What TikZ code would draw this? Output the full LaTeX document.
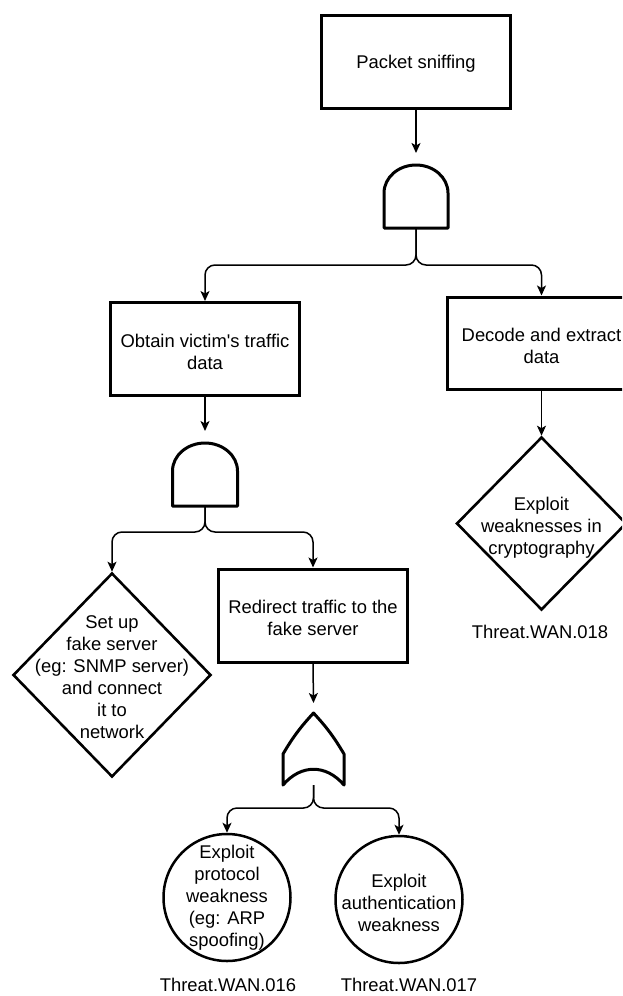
\documentclass[tikz,border=0pt]{standalone}
\usepackage{fontspec}
\setmainfont{Liberation Sans}
\usetikzlibrary{arrows.meta,shapes.geometric}

\begin{document}
\begin{tikzpicture}[x=1pt,y=-1pt,
  font=\fontsize{18.4}{22}\selectfont,
  box/.style={draw, line width=3pt, minimum width=189pt, minimum height=93pt,
              inner sep=0pt},
  boxtext/.style={label={[txt, yshift=-2.5pt]center:#1}},
  dmd/.style={draw, diamond, line width=2.6pt, inner sep=0pt},
  ball/.style={draw, circle, line width=2.5pt, inner sep=0pt, minimum size=127pt},
  txt/.style={align=center, inner sep=0pt},
  gate/.style={inner sep=0pt, outer sep=0pt, minimum width=64pt, minimum height=75pt},
  gateline/.style={line width=3pt, line join=round},
  conn/.style={line width=1.5pt, rounded corners=10pt,
               -{Stealth[length=10pt,width=9pt,inset=2.5pt]}}
]
\useasboundingbox (0,0) rectangle (622,996);
\fill[white] (0,0) rectangle (622,996);
\clip (0,0) rectangle (622,996);

% boxes
\node[box, boxtext={Packet sniffing}] (packet) at (416,61.5) {};
\node[box, boxtext={Obtain victim\textquotesingle s traffic\\data}] (obtain) at (205,349) {};
\node[box, minimum height=92pt, boxtext={Decode and extract\\data}] (decode) at (541.5,343) {};
\node[box, boxtext={Redirect traffic to the\\fake server}] (redirect) at (313,615.5) {};

% gates
\node[gate] (g1) at (416,190.5) {};
\draw[gateline] (g1.south west) -- ++(0,-35)
  arc[start angle=180, end angle=0, x radius=32pt, y radius=28pt]
  -- (g1.south east) -- cycle;

\node[gate, minimum width=65pt] (g2) at (205,468.5) {};
\draw[gateline] (g2.south west) -- ++(0,-35)
  arc[start angle=180, end angle=0, x radius=32.5pt, y radius=28pt]
  -- (g2.south east) -- cycle;

\node[gate, minimum width=61pt, minimum height=82pt] (org) at (313.5,744) {};
\draw[gateline] (org.south west) -- ++(0,-31)
  to[bend left=6] ([yshift=-10pt]org.north)
  to[bend left=6] ([yshift=31pt]org.south east)
  -- (org.south east)
  .. controls ([xshift=-18pt,yshift=21pt]org.south east)
          and ([xshift=18pt,yshift=21pt]org.south west) .. cycle;

% leaves
\node[dmd, minimum width=198pt, minimum height=204pt] (setup) at (112,675) {};
\node[txt] at (112,677) {Set up\\fake server\\(eg: SNMP server)\\and connect\\it to\\network};

\node[dmd, minimum width=170pt, minimum height=173pt] (crypto) at (541.5,523.5) {};
\node[txt] at (541.5,528) {Exploit\\weaknesses in\\cryptography};

\node[ball] (proto) at (227,897.5) {};
\node[txt] at (227,898) {Exploit\\protocol\\weakness\\(eg: ARP\\spoofing)};

\node[ball] (auth) at (399,899.5) {};
\node[txt] at (399,903) {Exploit\\authentication\\weakness};

% threat identifiers
\node[txt] (t16) at (228,985) {Threat.WAN.016};
\node[txt] (t17) at (409,985) {Threat.WAN.017};
\node[txt] (t18) at (540,632) {Threat.WAN.018};

% junction points of the branching edges
\coordinate (j1) at (416,265);
\coordinate (j2) at (205,532);
\coordinate (j3) at (313.5,808);

% connectors
\draw[conn] (packet.south) -- (g1.north);
\draw[conn] (g1.south) -- (j1) -| (obtain.north);
\draw[conn] (g1.south) -- (j1) -| (decode.north);
\draw[conn] (obtain.south) -- (g2.north);
\draw[conn] (g2.south) -- (j2) -| (setup.north);
\draw[conn] (g2.south) -- (j2) -| (redirect.north);
\draw[conn] (redirect.south) -- (org.north);
\draw[conn] (org.south) -- (j3) -| (proto.north);
\draw[conn] (org.south) -- (j3) -| (auth.north);
\draw[conn] (decode.south) -- (crypto.north);
\end{tikzpicture}
\end{document}
